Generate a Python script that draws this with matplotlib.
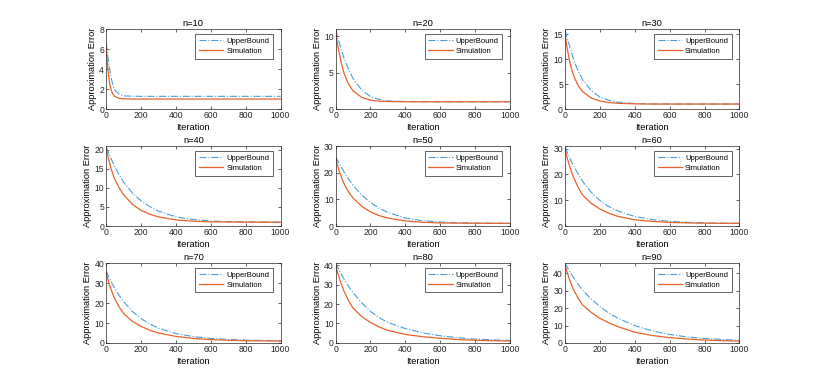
import numpy as np
import matplotlib.pyplot as plt

plt.rcParams['font.family'] = ['Liberation Sans', 'DejaVu Sans']

iters = [0, 10, 20, 30, 40, 50, 75, 100, 150, 200, 250, 300, 400, 500, 600, 700, 800, 900, 1000]
n_values = [10, 20, 30, 40, 50, 60, 70, 80, 90]

upper_10 = [6.6, 5.2, 4.0, 3.0, 2.3, 1.9, 1.45, 1.32, 1.28, 1.27, 1.27, 1.27, 1.27, 1.27, 1.27, 1.27, 1.27, 1.27, 1.27]
sim_10 = [6.1, 3.9, 2.5, 1.8, 1.45, 1.25, 1.07, 1.02, 1.0, 1.0, 1.0, 1.0, 1.0, 1.0, 1.0, 1.0, 1.0, 1.0, 1.0]
upper_20 = [11.0, 10.0, 9.2, 8.4, 7.6, 6.9, 5.4, 4.2, 2.6, 1.7, 1.3, 1.12, 1.03, 1.01, 1.0, 1.0, 1.0, 1.0, 1.0]
sim_20 = [10.5, 9.0, 7.8, 6.6, 5.6, 4.8, 3.4, 2.5, 1.6, 1.22, 1.08, 1.03, 1.0, 1.0, 1.0, 1.0, 1.0, 1.0, 1.0]
upper_30 = [15.8, 14.5, 13.3, 12.1, 11.0, 9.8, 7.6, 5.9, 3.7, 2.4, 1.75, 1.38, 1.1, 1.02, 1.0, 1.0, 1.0, 1.0, 1.0]
sim_30 = [15.0, 12.6, 10.7, 9.0, 7.7, 6.6, 4.7, 3.5, 2.2, 1.6, 1.3, 1.15, 1.03, 1.0, 1.0, 1.0, 1.0, 1.0, 1.0]
upper_40 = [20.8, 19.6, 18.5, 17.5, 16.5, 15.5, 13.4, 11.5, 8.7, 6.6, 5.1, 3.9, 2.4, 1.7, 1.3, 1.15, 1.08, 1.05, 1.04]
sim_40 = [20.5, 18.3, 16.4, 14.8, 13.4, 12.2, 10.0, 8.2, 5.7, 4.1, 3.1, 2.4, 1.6, 1.25, 1.1, 1.05, 1.02, 1.0, 1.0]
upper_50 = [26.0, 24.8, 23.6, 22.4, 21.2, 20.1, 17.6, 15.3, 11.6, 8.8, 6.7, 5.1, 3.0, 2.0, 1.5, 1.25, 1.12, 1.06, 1.03]
sim_50 = [25.5, 23.0, 20.8, 18.9, 17.1, 15.6, 12.7, 10.5, 7.4, 5.3, 3.9, 3.0, 1.9, 1.4, 1.15, 1.07, 1.03, 1.01, 1.0]
upper_60 = [30.5, 29.0, 27.5, 26.0, 24.6, 23.2, 20.2, 17.4, 13.1, 9.9, 7.6, 5.9, 3.7, 2.5, 1.8, 1.45, 1.25, 1.12, 1.06]
sim_60 = [29.8, 27.0, 24.6, 22.4, 20.4, 18.7, 15.0, 12.1, 8.8, 6.6, 5.0, 3.8, 2.4, 1.8, 1.4, 1.2, 1.1, 1.04, 1.0]
upper_70 = [36.0, 34.0, 32.2, 30.4, 28.8, 27.2, 23.7, 20.7, 15.8, 12.2, 9.5, 7.4, 4.7, 3.2, 2.3, 1.8, 1.45, 1.25, 1.1]
sim_70 = [35.0, 31.7, 28.8, 26.2, 24.0, 22.0, 17.9, 14.8, 10.8, 8.3, 6.4, 5.0, 3.3, 2.3, 1.7, 1.35, 1.15, 1.05, 1.0]
upper_80 = [41.0, 39.2, 37.4, 35.7, 34.1, 32.5, 28.9, 25.8, 20.5, 16.2, 13.0, 10.5, 7.4, 5.2, 3.7, 2.7, 2.0, 1.6, 1.4]
sim_80 = [40.0, 36.6, 33.6, 30.9, 28.4, 26.2, 21.5, 17.9, 13.5, 10.5, 8.2, 6.5, 4.4, 3.2, 2.4, 1.8, 1.4, 1.15, 1.0]
upper_90 = [46.0, 44.1, 42.3, 40.6, 39.0, 37.4, 33.8, 30.5, 25.3, 21.0, 17.3, 14.4, 10.0, 7.0, 4.9, 3.5, 2.6, 2.0, 1.6]
sim_90 = [45.0, 41.4, 38.2, 35.3, 32.7, 30.4, 25.8, 22.0, 17.6, 14.2, 11.6, 9.5, 6.2, 4.3, 3.1, 2.3, 1.7, 1.3, 1.1]

upper = [upper_10, upper_20, upper_30, upper_40, upper_50, upper_60, upper_70, upper_80, upper_90]
sim = [sim_10, sim_20, sim_30, sim_40, sim_50, sim_60, sim_70, sim_80, sim_90]

y_tops = [8, 11, 16, 21, 30, 31, 40, 41, 46]
y_steps = [2, 5, 5, 5, 10, 10, 10, 10, 10]

fig = plt.figure(figsize=(8.17, 3.88), dpi=100)

# matlab-like subplot grid
lefts = [0.13, 0.4108, 0.6916]
bottoms = [0.719, 0.4175, 0.116]
w, h = 0.2134, 0.206

for i, n in enumerate(n_values):
    r, c = divmod(i, 3)
    ax = fig.add_axes([lefts[c], bottoms[r], w, h])
    ax.plot(iters, upper[i], '-.', color='#4a9fd8', lw=0.8, label='UpperBound')
    ax.plot(iters, sim[i], '-', color='#e8622a', lw=0.9, label='Simulation')
    ax.set_xlim(0, 1000)
    ax.set_ylim(0, y_tops[i])
    ax.set_xticks(np.arange(0, 1001, 200))
    ax.set_yticks(np.arange(0, y_tops[i] + 0.1, y_steps[i]))
    ax.tick_params(direction='in', top=True, right=True, length=2, width=0.5,
                   labelsize=6.2, pad=1.5, colors='#262626')
    for s in ax.spines.values():
        s.set_linewidth(0.5)
        s.set_color('#262626')
    ax.set_title('n=%d' % n, fontsize=6.7, pad=2.5)
    ax.set_xlabel('Iteration', fontsize=6.7, labelpad=2)
    ax.set_ylabel('Approximation Error', fontsize=6.7, labelpad=1.5)
    leg = ax.legend(loc='upper right', bbox_to_anchor=(0.955, 0.94), fontsize=5.5,
                    fancybox=False, framealpha=1, edgecolor='#262626',
                    handlelength=3.2, borderpad=0.45, labelspacing=0.4,
                    handletextpad=0.4, borderaxespad=0)
    leg.get_frame().set_linewidth(0.5)

plt.savefig('out.png', dpi=100)
